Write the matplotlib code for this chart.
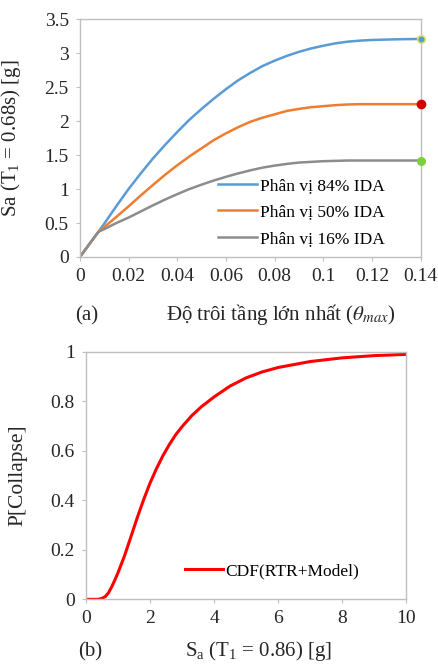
import numpy as np
import matplotlib.pyplot as plt

plt.rcParams['font.family'] = 'serif'
plt.rcParams['font.serif'] = ['Liberation Serif', 'DejaVu Serif']
plt.rcParams['mathtext.fontset'] = 'stix'
plt.rcParams['mathtext.default'] = 'regular'

# (a) IDA percentile curves
drift = [0, 0.0076, 0.01, 0.015, 0.02, 0.025, 0.03, 0.035, 0.04, 0.045, 0.05, 0.055, 0.06,
         0.065, 0.07, 0.075, 0.08, 0.085, 0.09, 0.095, 0.1, 0.105, 0.11, 0.115, 0.12, 0.13, 0.14]
sa_84 = [0, 0.37, 0.49, 0.75, 1.00, 1.23, 1.45, 1.65, 1.84, 2.02, 2.18, 2.33, 2.47,
         2.60, 2.71, 2.81, 2.89, 2.96, 3.02, 3.07, 3.11, 3.145, 3.17, 3.185, 3.195, 3.205, 3.21]
sa_50 = [0, 0.37, 0.44, 0.59, 0.745, 0.905, 1.06, 1.21, 1.35, 1.48, 1.60, 1.72, 1.82,
         1.91, 1.99, 2.05, 2.10, 2.15, 2.18, 2.205, 2.22, 2.235, 2.245, 2.25, 2.25, 2.25, 2.25]
sa_16 = [0, 0.37, 0.41, 0.50, 0.58, 0.67, 0.76, 0.845, 0.925, 1.00, 1.065, 1.125, 1.18,
         1.23, 1.275, 1.315, 1.345, 1.37, 1.39, 1.40, 1.41, 1.415, 1.42, 1.42, 1.42, 1.42, 1.42]
labels_a = ['Phân vị 84% IDA', 'Phân vị 50% IDA', 'Phân vị 16% IDA']

# (b) collapse fragility
sa_b = [0, 0.38, 0.5, 0.6, 0.7, 0.8, 0.9, 1.0, 1.2, 1.4, 1.6, 1.8, 2.0, 2.2, 2.4, 2.6, 2.8,
        3.0, 3.3, 3.6, 4.0, 4.5, 5.0, 5.5, 6.0, 7.0, 8.0, 9.0, 10.0]
p_col = [0, 0, 0.004, 0.011, 0.026, 0.050, 0.078, 0.108, 0.175, 0.252, 0.330, 0.403, 0.470,
         0.528, 0.580, 0.625, 0.665, 0.698, 0.742, 0.778, 0.818, 0.862, 0.895, 0.919, 0.937,
         0.961, 0.976, 0.985, 0.99]

fig = plt.figure(figsize=(4.39, 6.64), dpi=100)
frame = '#BFBFBF'
txt = '#262626'

ax1 = fig.add_axes([0.182, 0.613, 0.776, 0.358])
ax1.plot(drift, sa_84, color='#5B9BD5', lw=1.8, label=labels_a[0])
ax1.plot(drift, sa_50, color='#ED7D31', lw=1.8, label=labels_a[1])
ax1.plot(drift, sa_16, color='#8C8C8C', lw=1.8, label=labels_a[2])
ax1.plot([0.14], [sa_84[-1]], 'o', ms=5.5, color='#5B9BD5', mec='#D9E36A', mew=1.2, clip_on=False, zorder=5)
ax1.plot([0.14], [sa_50[-1]], 'o', ms=6, color='#D00000', clip_on=False, zorder=5)
ax1.plot([0.14], [sa_16[-1]], 'o', ms=5.5, color='#7CD03C', clip_on=False, zorder=5)
ax1.set_xlim(0, 0.14)
ax1.set_ylim(0, 3.5)
ax1.set_xticks(np.arange(0, 0.141, 0.02))
ax1.set_xticklabels(['0', '0.02', '0.04', '0.06', '0.08', '0.1', '0.12', '0.14'])
ax1.set_yticks(np.arange(0, 3.51, 0.5))
ax1.set_yticklabels(['0', '0.5', '1', '1.5', '2', '2.5', '3', '3.5'])
ax1.set_ylabel('Sa (T$_1$ = 0.68s) [g]', fontsize=15, color=txt)
ax1.yaxis.set_label_coords(-0.167, 0.5)
ax1.legend(loc='center left', bbox_to_anchor=(0.405, 0.188), frameon=False, fontsize=12.5,
           handlelength=2.25, handletextpad=0.2, labelspacing=0.6, borderpad=0, borderaxespad=0)
fig.text(0.172, 0.518, '(a)', fontsize=15, color=txt)
fig.text(0.64, 0.518, 'Độ trôi tầng lớn nhất ($\\mathit{\\theta_{max}}$)', fontsize=15, color=txt, ha='center')

ax2 = fig.add_axes([0.196, 0.0974, 0.729, 0.3726])
ax2.plot(sa_b, p_col, color='#FF0000', lw=2.2, label='CDF(RTR+Model)')
ax2.set_xlim(0, 10)
ax2.set_ylim(0, 1)
ax2.set_xticks(np.arange(0, 11, 2))
ax2.set_yticks(np.arange(0, 1.01, 0.2))
ax2.set_yticklabels(['0', '0.2', '0.4', '0.6', '0.8', '1'])
ax2.set_ylabel('P[Collapse]', fontsize=15.5, color=txt)
ax2.yaxis.set_label_coords(-0.184, 0.5)
ax2.legend(loc='center left', bbox_to_anchor=(0.309, 0.114), frameon=False, fontsize=12.5,
           handlelength=2.2, handletextpad=0.1, borderpad=0, borderaxespad=0)
fig.text(0.178, 0.012, '(b)', fontsize=15, color=txt)
fig.text(0.59, 0.012, 'S$_a$ (T$_1$ = 0.86) [g]', fontsize=15, color=txt, ha='center')

for ax in (ax1, ax2):
    for s in ax.spines.values():
        s.set_color(frame)
        s.set_linewidth(1)
    ax.tick_params(direction='out', length=3, color=frame, labelsize=14, labelcolor=txt, pad=5)

fig.savefig('out.png', dpi=100)
